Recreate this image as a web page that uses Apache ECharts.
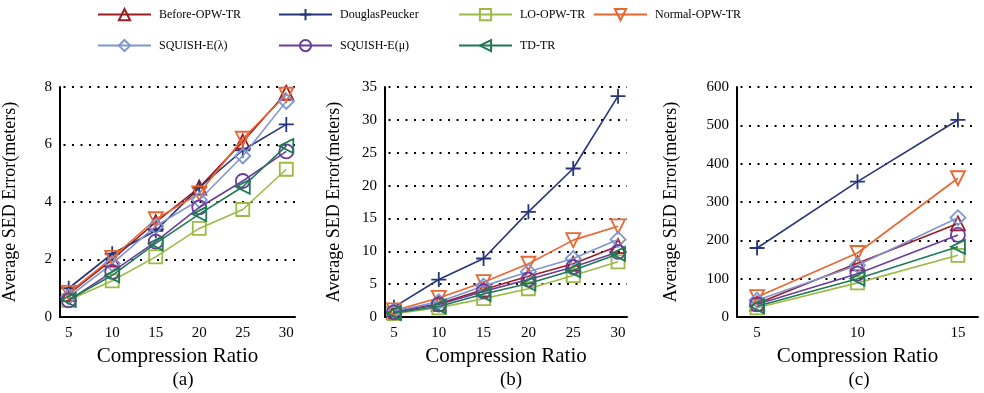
<!DOCTYPE html>
<html><head><meta charset="utf-8">
<script src="https://cdn.jsdelivr.net/npm/echarts@6/dist/echarts.min.js"></script>
<style>html,body{margin:0;padding:0;background:#fff}#c{width:984px;height:393px}</style>
</head><body><div id="c"></div>
<script>
// ---- data ----
const seriesNames = ['Before-OPW-TR','DouglasPeucker','LO-OPW-TR','Normal-OPW-TR','SQUISH-E(λ)','SQUISH-E(μ)','TD-TR'];
const xA = [5,10,15,20,25,30];
const xB = [5,10,15,20,25,30];
const xC = [5,10,15];
const yTicksA = [0,2,4,6,8];
const yTicksB = [0,5,10,15,20,25,30,35];
const yTicksC = [0,100,200,300,400,500,600];
// panel (a)
const aBefore = [0.8,2.0,3.3,4.5,6.1,7.8];
const aDP     = [1.0,2.2,3.0,4.5,5.8,6.7];
const aLO     = [0.58,1.26,2.09,3.08,3.74,5.14];
const aNormal = [0.84,2.06,3.4,4.3,6.2,7.73];
const aSqL    = [0.7,1.86,3.16,4.07,5.6,7.5];
const aSqM    = [0.58,1.57,2.62,3.81,4.73,5.76];
const aTD     = [0.6,1.45,2.56,3.58,4.53,5.95];
// panel (b)
const bBefore = [0.8,2.0,4.2,6.2,8.1,10.8];
const bDP     = [1.5,5.7,8.9,16.0,22.6,33.6];
const bLO     = [0.5,1.4,2.8,4.3,6.3,8.4];
const bNormal = [1.0,2.9,5.3,8.1,11.7,13.8];
const bSqL    = [0.9,2.3,4.7,6.9,8.9,11.8];
const bSqM    = [0.7,1.9,3.9,5.7,7.6,9.9];
const bTD     = [0.6,1.6,3.5,5.1,7.1,9.6];
// panel (c)
const cBefore = [35,140,244];
const cDP     = [180,353,514];
const cLO     = [24,89,161];
const cNormal = [52,167,362];
const cSqL    = [44,135,259];
const cSqM    = [33,113,214];
const cTD     = [28,100,183];

const panelData = [
  [aBefore,aDP,aLO,aNormal,aSqL,aSqM,aTD],
  [bBefore,bDP,bLO,bNormal,bSqL,bSqM,bTD],
  [cBefore,cDP,cLO,cNormal,cSqL,cSqM,cTD]
];
const panelX = [xA,xB,xC];
const panelYTicks = [yTicksA,yTicksB,yTicksC];
const panelLabels = ['(a)','(b)','(c)'];

// ---- styles ----
const colors = ['#9a1d22','#27357a','#9bbb45','#ea6530','#7f95d2','#6a3d9e','#1e7a52'];
const plusPath = 'path://M0,5L10,5M5,0L5,10';
const symbols = ['triangle', plusPath, 'rect', 'triangle', 'diamond', 'circle', 'triangle'];
const rotates = [0,0,0,180,0,0,90];
const symSizes = [14,15,13,14,15,14,14];
const FONT = '"Liberation Serif", "Times New Roman", serif';

const grids = [
  {left:54, top:87, width:241, height:230},
  {left:385, top:87, width:242, height:230},
  {left:737, top:87, width:241, height:230}
];
const xRanges = [[4,31],[4,31],[4,16]];
const nameGaps = [41,42,57];

const xAxes = [], yAxes = [], series = [];
for (let p=0;p<3;p++){
  const ticksX = panelX[p];
  xAxes.push({
    gridIndex:p, type:'value', min:xRanges[p][0], max:xRanges[p][1], interval:1,
    name:'Compression Ratio', nameLocation:'middle', nameGap:26,
    nameTextStyle:{fontFamily:FONT, fontSize:21, color:'#000'},
    axisLine:{lineStyle:{color:'#000', width:2}},
    axisTick:{show:false},
    splitLine:{show:false},
    axisLabel:{fontFamily:FONT, fontSize:15, color:'#000', margin:9,
      showMinLabel:false, showMaxLabel:false,
      formatter:v=> ticksX.indexOf(v)>=0 ? String(v) : ''}
  });
  const yt = panelYTicks[p];
  yAxes.push({
    gridIndex:p, type:'value', min:yt[0], max:yt[yt.length-1], interval:yt[1]-yt[0],
    name:'Average SED Error(meters)', nameLocation:'middle', nameGap:nameGaps[p],
    nameTextStyle:{fontFamily:FONT, fontSize:18, color:'#000'},
    axisLine:{show:true, lineStyle:{color:'#000', width:2}},
    axisTick:{show:false},
    axisLabel:{fontFamily:FONT, fontSize:15, color:'#000', margin:8},
    splitLine:{show:true, lineStyle:{color:'#000', width:2, type:[2,6.5], dashOffset:5}}
  });
  for (let s=0;s<7;s++){
    const ys = panelData[p][s];
    series.push({
      name:seriesNames[s], type:'line', xAxisIndex:p, yAxisIndex:p,
      data: panelX[p].map((x,i)=>[x, ys[i]]),
      symbol:symbols[s], symbolSize:symSizes[s], symbolRotate:rotates[s],
      showAllSymbol:true,
      lineStyle:{color:colors[s], width:1.6},
      itemStyle:{color:'rgba(255,255,255,0)', borderColor:colors[s], borderWidth:1.8},
      emphasis:{disabled:true}, animation:false, z: 2 + s
    });
  }
}

const legendPos = [
  {left:97, top:8}, {left:278, top:8}, {left:458, top:8}, {left:593, top:8},
  {left:97, top:39}, {left:278, top:39}, {left:458, top:39}
];
const legends = seriesNames.map((n,i)=>({
  data:[n], left:legendPos[i].left, top:legendPos[i].top, padding:0,
  itemWidth:53, itemHeight:14, itemGap:8,
  textStyle:{fontFamily:FONT, fontSize:12, color:'#000', padding:[0,0,0,3]},
  selectedMode:false
}));

const titles = panelLabels.map((t,i)=>({
  text:t, left:[178,506,854][i], top:366, textAlign:'center',
  textStyle:{fontFamily:FONT, fontSize:19, fontWeight:'normal', color:'#000'}
}));

const chart = echarts.init(document.getElementById('c'), null, {renderer:'canvas'});
chart.setOption({
  animation:false,
  backgroundColor:'#fff',
  title:titles,
  legend:legends,
  grid:grids,
  xAxis:xAxes,
  yAxis:yAxes,
  series:series
});
</script></body></html>
